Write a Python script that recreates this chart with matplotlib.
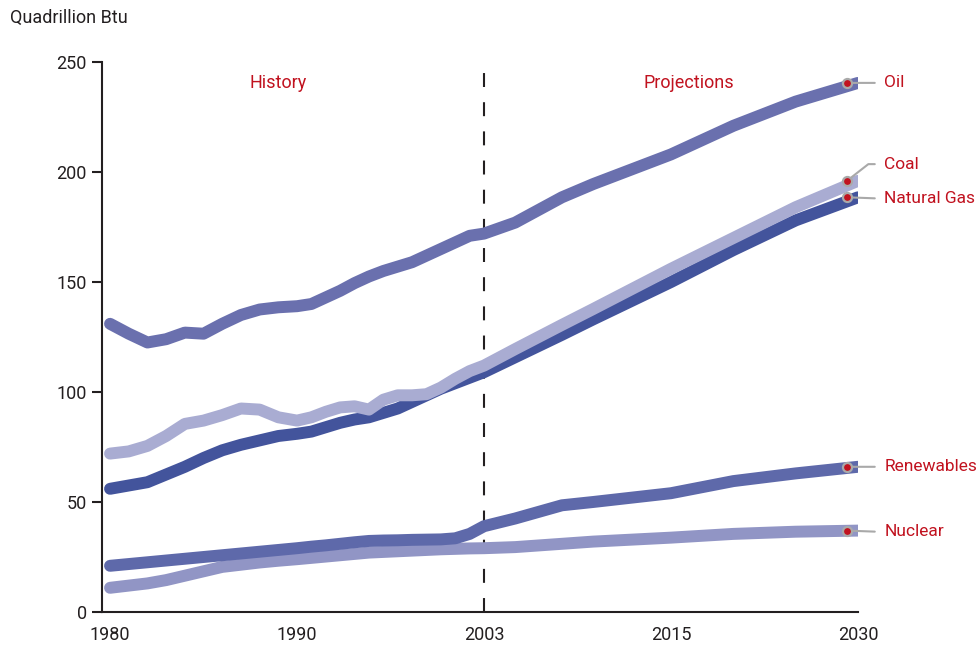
import numpy as np
import matplotlib
matplotlib.use("Agg")
import matplotlib.pyplot as plt
from matplotlib.transforms import offset_copy

plt.rcParams['font.family'] = ['Liberation Sans Narrow', 'Roboto', 'DejaVu Sans']

# tick years sit at equal spacing on the axis
tick_years = [1980, 1990, 2003, 2015, 2030]

years = list(range(1980, 2004)) + [2005, 2008, 2010, 2015, 2020, 2025, 2030]

oil = [131, 126.5, 122.5, 124, 127, 126.5, 131, 135, 137.5, 138.5,
       139, 140, 143, 146, 149.5, 152.5, 155, 157, 159, 162,
       165, 168, 171, 172,
       177, 188.5, 194.5, 208, 221, 232, 240.5]
coal = [72, 73, 75.5, 80, 85.5, 87, 89.5, 92.5, 92, 88.5,
        87, 88.5, 91, 93, 93.5, 92, 96.5, 98.5, 98.5, 99,
        102, 106, 109.5, 112,
        119.5, 130.5, 137.7, 156, 170, 184, 196]
gas = [56, 57.5, 59, 62.5, 66, 70, 73.5, 76, 78, 80,
       81, 82, 84, 86, 87.5, 88.5, 90.5, 92.5, 95.5, 98.5,
       101.5, 104, 106.5, 109,
       115.8, 126, 133, 150, 164.5, 178, 188.5]
renewables = [21, 21.8, 22.6, 23.4, 24.2, 25, 25.8, 26.6, 27.4, 28.2,
              29, 29.7, 30.3, 31, 31.7, 32.3, 32.5, 32.6, 32.8, 32.9,
              33, 33.5, 35.5, 39,
              42.5, 48.5, 50, 54, 59.5, 63, 66]
nuclear = [11, 12, 13, 14.5, 16.5, 18.5, 20.5, 21.5, 22.5, 23.3,
           24, 24.6, 25.2, 25.8, 26.4, 27, 27.3, 27.6, 27.9, 28.2,
           28.5, 28.7, 28.9, 29,
           29.5, 31, 32, 33.8, 35.5, 36.5, 37]

series = [
    ("Oil", oil, "#6a70ae"),
    ("Natural Gas", gas, "#43549c"),
    ("Coal", coal, "#a9acd2"),
    ("Nuclear", nuclear, "#9195c5"),
    ("Renewables", renewables, "#5e69aa"),
]

red = "#c1121f"
ink = "#231f20"

# piecewise year -> slot scale
anchor_y = [1970] + tick_years + [2045]
anchor_s = [-1, 0, 1, 2, 3, 4, 5]


def fwd(x):
    return np.interp(x, anchor_y, anchor_s)


def inv(s):
    return np.interp(s, anchor_s, anchor_y)


fig = plt.figure(figsize=(9.78, 6.47), dpi=100)
ax = fig.add_axes([102 / 978, 35 / 647, 756 / 978, 550 / 647])
ax.set_xscale('function', functions=(fwd, inv))
ax.set_xlim(1979.57, 2030)
ax.set_ylim(0, 250)

for name, vals, col in series:
    ax.plot(years, vals, color=col, lw=8.6, solid_capstyle='round',
            solid_joinstyle='round', zorder=3)

ax.axvline(2003, ymin=0, ymax=0.99, color=ink, lw=1.5,
           linestyle=(0, (6.7, 7.3)), zorder=2)

# end labels
dot_tr = offset_copy(ax.transData, fig=fig, x=-11, y=0, units='dots')
label_dy = {"Oil": 0, "Coal": 12, "Natural Gas": -1, "Renewables": 0, "Nuclear": -1}
for name, vals, col in series:
    dy = label_dy[name]
    ax.plot([years[-1]], [vals[-1]], 'o', transform=dot_tr, ms=6.5,
            mfc=red, mec='#a9a9a9', mew=1.6, zorder=6, clip_on=False)
    if dy > 4:
        cs = "angle,angleA=0,angleB=38,rad=0"
    else:
        cs = "arc3"
    ax.annotate(name, xy=(years[-1], vals[-1]), xycoords=dot_tr,
                xytext=(27, dy), textcoords='offset points',
                color=red, fontsize=12.5, va='center', ha='left',
                annotation_clip=False,
                arrowprops=dict(arrowstyle='-', color='#a9a9a9', lw=1.5,
                                shrinkA=5, shrinkB=0, relpos=(0, 0.5),
                                connectionstyle=cs), zorder=5)

ax.text(0.233, 0.962, "History", transform=ax.transAxes, color=red,
        fontsize=13, ha='center', va='center')
ax.text(0.776, 0.962, "Projections", transform=ax.transAxes, color=red,
        fontsize=13, ha='center', va='center')
fig.text(10 / 978, 1 - 18 / 647, "Quadrillion Btu", fontsize=13,
         color=ink, va='center', ha='left')

for s in ['top', 'right']:
    ax.spines[s].set_visible(False)
for s in ['left', 'bottom']:
    ax.spines[s].set_color(ink)
    ax.spines[s].set_linewidth(1.5)

ax.set_yticks([0, 50, 100, 150, 200, 250])
ax.tick_params(axis='y', direction='out', length=7, width=1.5, color=ink,
               labelsize=13, labelcolor=ink, pad=4)
ax.set_xticks(tick_years)
ax.set_xticklabels([str(y) for y in tick_years])
ax.tick_params(axis='x', which='major', length=0, labelsize=13,
               labelcolor=ink, pad=10)
ax.set_xticks([2030], minor=True)
ax.tick_params(axis='x', which='minor', direction='in', length=7,
               width=1.5, color=ink)

fig.savefig("out.png", dpi=100)
